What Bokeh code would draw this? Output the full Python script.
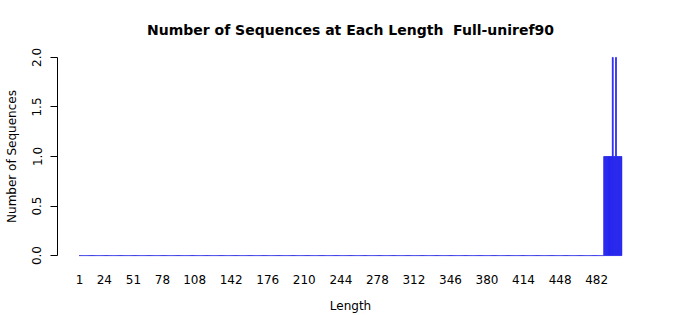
from bokeh.plotting import figure
from bokeh.models import Range1d, FixedTicker, PrintfTickFormatter, ColumnDataSource
from bokeh.embed import file_html
from bokeh.resources import INLINE

# ---- data ----
max_length = 505
lengths = list(range(1, max_length + 1))
nonzero_lengths = [489, 490, 491, 492, 493, 494, 495, 496, 497, 498, 499, 500, 501, 502, 503, 504, 505]
nonzero_counts  = [1,   1,   1,   1,   1,   1,   1,   1,   2,   1,   1,   2,   1,   1,   1,   1,   1]
x_tick_labels = [1, 24, 51, 78, 108, 142, 176, 210, 244, 278, 312, 346, 380, 414, 448, 482]
y_ticks = [0, 0.5, 1.0, 1.5, 2.0]

count_map = dict(zip(nonzero_lengths, nonzero_counts))
counts = [count_map.get(L, 0) for L in lengths]

FONT = "DejaVu Sans"
Y0, Y1 = -0.08, 2.08

p = figure(width=700, height=315, output_backend="svg", toolbar_location=None,
           x_range=Range1d(-19.61, 525.6), y_range=Range1d(Y0, Y1),
           min_border_left=57, min_border_right=57, min_border_top=49, min_border_bottom=52,
           title="Number of Sequences at Each Length\u00a0 Full-uniref90")

p.title.align = "center"
p.title.text_font = FONT
p.title.text_font_size = "14px"
p.title.text_font_style = "bold"
p.title.text_color = "black"
p.title.standoff = 24

p.outline_line_color = None
p.xgrid.visible = False
p.ygrid.visible = False
p.background_fill_color = "white"
p.border_fill_color = "white"

src = ColumnDataSource(dict(x=lengths, top=counts))
p.vbar(x="x", top="top", bottom=0, width=1/1.2, source=src,
       fill_color="blue", line_color="#2b2bea", line_width=0.8)

# y axis
ya = p.yaxis[0]
ya.ticker = FixedTicker(ticks=y_ticks)
ya.formatter = PrintfTickFormatter(format="%.1f")
ya.bounds = (0, 2)
ya.major_tick_out = 7
ya.major_tick_in = 0
ya.minor_tick_out = 0
ya.minor_tick_in = 0
ya.major_label_orientation = "vertical"
ya.major_label_standoff = 9
ya.major_label_text_font = FONT
ya.major_label_text_font_size = "12px"
ya.major_label_text_color = "black"
ya.axis_line_color = "black"
ya.major_tick_line_color = "black"
ya.axis_label = "Number of Sequences"
ya.axis_label_text_font = FONT
ya.axis_label_text_font_size = "12px"
ya.axis_label_text_font_style = "normal"
ya.axis_label_text_color = "black"
ya.axis_label_text_line_height = 0.9
ya.axis_label_standoff = 11

# x axis
xa = p.xaxis[0]
xa.ticker = FixedTicker(ticks=x_tick_labels)
xa.axis_line_color = None
xa.major_tick_line_color = None
xa.minor_tick_line_color = None
xa.major_label_standoff = 5
xa.major_label_text_font = FONT
xa.major_label_text_font_size = "12px"
xa.major_label_text_color = "black"
xa.axis_label = "Length"
xa.axis_label_text_font = FONT
xa.axis_label_text_font_size = "12px"
xa.axis_label_text_font_style = "normal"
xa.axis_label_text_color = "black"
xa.axis_label_standoff = 12

open("out.html", "w").write(file_html(p, INLINE))
